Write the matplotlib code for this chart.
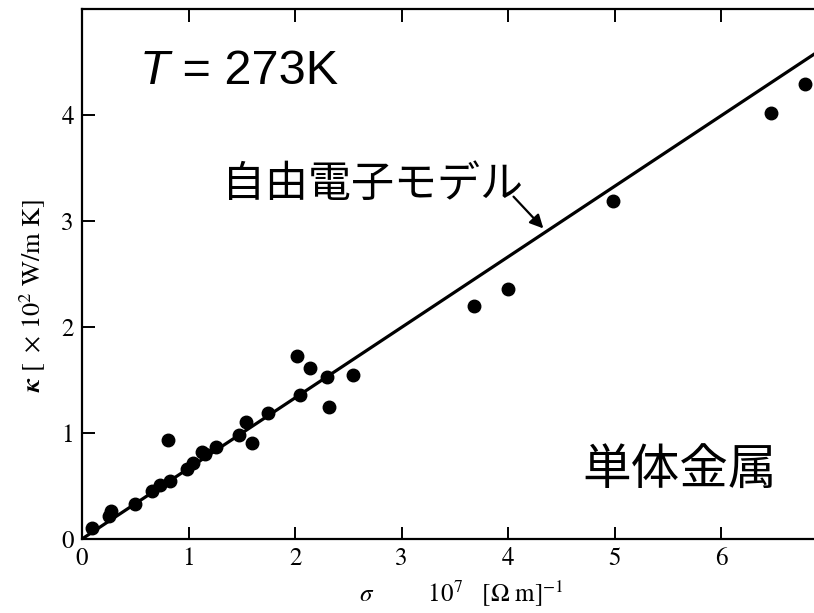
import matplotlib
matplotlib.use("Agg")
import matplotlib.pyplot as plt

plt.rcParams["mathtext.fontset"] = "stix"
plt.rcParams["font.family"] = ["STIXGeneral", "DejaVu Serif"]

# measured data: electrical conductivity sigma [1e7 /(Ohm m)] vs thermal conductivity kappa [1e2 W/m K]
sigma = [0.09, 0.25, 0.27, 0.50, 0.66, 0.73, 0.83, 0.81, 0.99, 1.04,
         1.13, 1.15, 1.26, 1.47, 1.54, 1.60, 1.75, 2.02, 2.05, 2.14,
         2.30, 2.32, 2.54, 3.68, 4.00, 4.98, 6.47, 6.79]
kappa = [0.10, 0.22, 0.26, 0.33, 0.45, 0.51, 0.55, 0.93, 0.66, 0.72,
         0.82, 0.80, 0.87, 0.98, 1.10, 0.91, 1.19, 1.73, 1.36, 1.61,
         1.53, 1.25, 1.55, 2.20, 2.36, 3.19, 4.02, 4.29]

# free electron model (Wiedemann-Franz, T = 273 K)
model_sigma = [0.0, 7.0]
model_kappa = [0.0, 4.66]

xticks = [0, 1, 2, 3, 4, 5, 6]
yticks = [0, 1, 2, 3, 4]

fig = plt.figure(figsize=(8.14, 6.13), dpi=100)
ax = fig.add_axes([0.1007, 0.1207, 0.8993, 0.8646])

ax.plot(model_sigma, model_kappa, color="black", lw=2.3, solid_capstyle="butt")
ax.plot(sigma, kappa, "o", color="black", markersize=9, clip_on=False)

ax.set_xlim(0, 6.87)
ax.set_ylim(0, 5.0)
ax.set_xticks(xticks)
ax.set_yticks(yticks)

ax.spines["right"].set_visible(False)
for s in ["left", "bottom", "top"]:
    ax.spines[s].set_linewidth(1.6)
ax.tick_params(direction="in", length=9, width=1.4, labelsize=18, pad=6,
               top=True, right=False)

ax.set_xlabel(r"$\sigma$         $10^7$   $[\Omega\ \mathrm{m}]^{-1}$", fontsize=18)
ax.xaxis.set_label_coords(0.518, -0.076)
ax.set_ylabel(r"$\boldsymbol{\kappa}$ $[\ \times\,10^2\ \mathrm{W/m\ K}]$", fontsize=19)
ax.yaxis.set_label_coords(-0.047, 0.46)

# annotations
t = ax.text(0.54, 4.41, "T", fontsize=35, style="italic",
            family="Liberation Sans", va="center", ha="left")
ax.annotate(" = 273K", xy=(1, 0), xycoords=t, va="bottom", ha="left",
            fontsize=35, family="Liberation Sans")

ax.text(1.31, 3.34, "自由電子モデル", fontsize=31, family="Noto Sans CJK JP",
        va="center", ha="left")
ax.annotate("", xy=(4.33, 2.93), xytext=(4.05, 3.23),
            arrowprops=dict(arrowstyle="-|>", lw=1.6, color="black",
                            mutation_scale=20, shrinkA=0, shrinkB=0))

ax.text(4.70, 0.65, "単体金属", fontsize=35, family="Noto Sans CJK JP",
        va="center", ha="left")

fig.savefig("out.png", dpi=100)
